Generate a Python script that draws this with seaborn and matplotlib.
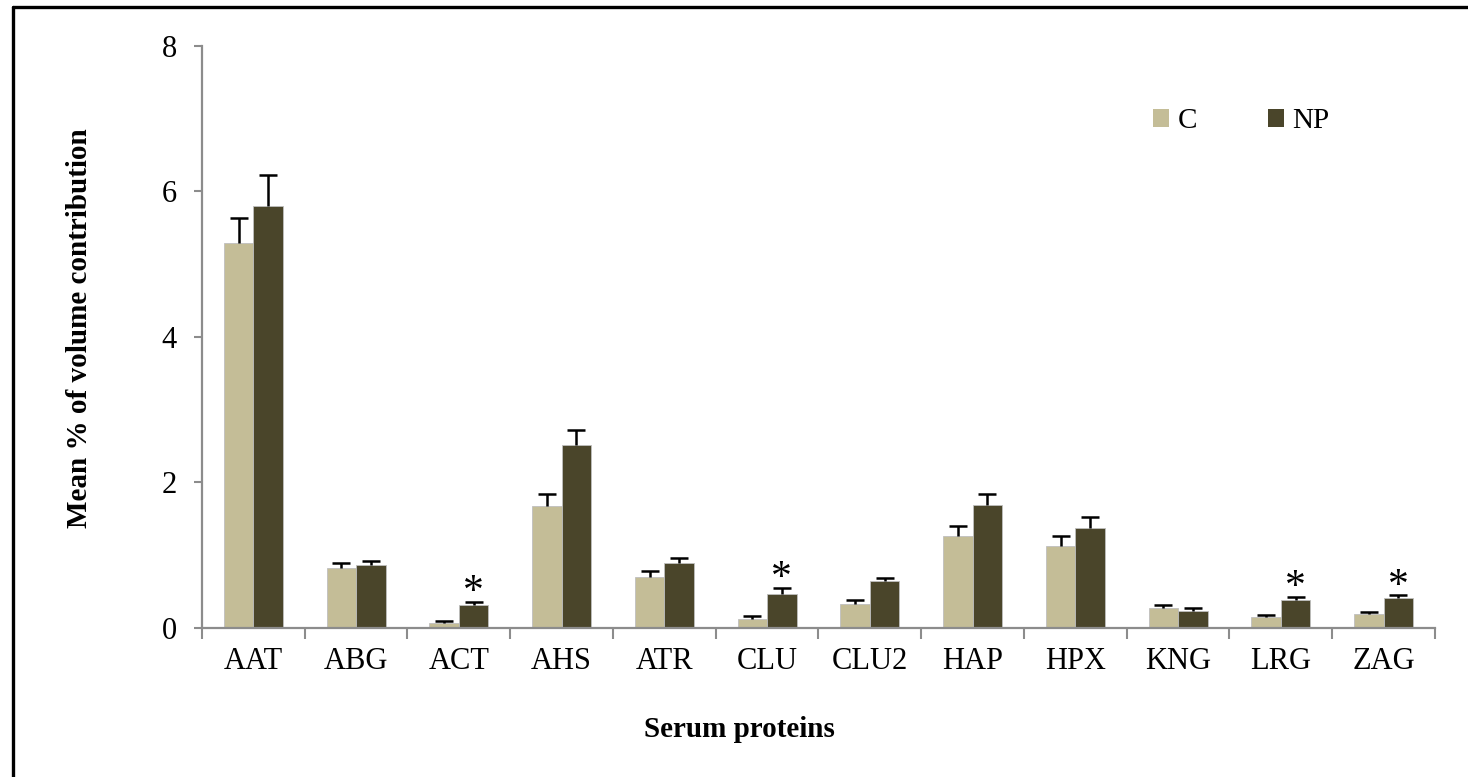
import matplotlib
matplotlib.use("Agg")
import matplotlib.pyplot as plt
from matplotlib.lines import Line2D
from matplotlib.patches import Patch
import numpy as np
import pandas as pd
import seaborn as sns

# Serum proteins and group means / SEM (% of spot volume)
proteins = ["AAT", "ABG", "ACT", "AHS", "ATR", "CLU", "CLU2", "HAP", "HPX", "KNG", "LRG", "ZAG"]
groups = ["C", "NP"]
mean_c = [5.29, 0.83, 0.07, 1.67, 0.70, 0.13, 0.33, 1.26, 1.13, 0.27, 0.15, 0.19]
mean_np = [5.80, 0.86, 0.31, 2.51, 0.89, 0.47, 0.64, 1.69, 1.37, 0.24, 0.385, 0.41]
sem_c = [0.35, 0.06, 0.03, 0.17, 0.08, 0.03, 0.05, 0.14, 0.14, 0.05, 0.03, 0.03]
sem_np = [0.42, 0.06, 0.05, 0.21, 0.07, 0.08, 0.05, 0.15, 0.16, 0.03, 0.04, 0.04]
significant = ["ACT", "CLU", "LRG", "ZAG"]
y_ticks = [0, 2, 4, 6, 8]

colors = {"C": "#C4BD97", "NP": "#4A452A"}

df = pd.DataFrame({
    "protein": proteins * 2,
    "group": ["C"] * len(proteins) + ["NP"] * len(proteins),
    "value": mean_c + mean_np,
    "sem": sem_c + sem_np,
})

sns.set_style("white")
plt.rcParams["font.family"] = ["Liberation Serif", "DejaVu Serif"]
plt.rcParams["text.color"] = "black"
plt.rcParams["axes.labelcolor"] = "black"
plt.rcParams["xtick.labelcolor"] = "black"
plt.rcParams["ytick.labelcolor"] = "black"

fig = plt.figure(figsize=(14.68, 7.77), dpi=100)
ax = fig.add_axes([0.1376, 0.1918, 0.8399, 0.749])

sns.barplot(data=df, x="protein", y="value", hue="group", order=proteins,
            hue_order=groups, palette=colors, saturation=1, width=0.575,
            gap=0, errorbar=None, edgecolor="#bfbfbf", linewidth=0.6, ax=ax,
            legend=False)

# Upper error whiskers with caps, plus significance marks
for gi, grp in enumerate(groups):
    container = ax.containers[gi]
    sub = df[df["group"] == grp].set_index("protein").loc[proteins]
    xs = np.array([p.get_x() + p.get_width() / 2 for p in container.patches])
    vals = sub["value"].to_numpy()
    errs = sub["sem"].to_numpy()
    ax.vlines(xs, vals, vals + errs, colors="black", linewidth=1.8, zorder=5)
    ax.plot(xs, vals + errs, linestyle="none", marker="_", markersize=13,
            markeredgewidth=1.8, color="black", zorder=5)
    if grp == "NP":
        for x, v, e, name in zip(xs, vals, errs, proteins):
            if name in significant:
                ax.annotate("*", xy=(x, v + e), xytext=(0, -1),
                            textcoords="offset points", ha="center",
                            va="baseline", fontsize=30)

ax.set_ylim(0, 8)
ax.set_yticks(y_ticks)
ax.set_xlim(-0.5, len(proteins) - 0.5)

ax.set_xticks(np.arange(len(proteins)))
ax.set_xticklabels(proteins)
ax.set_xticks(np.arange(len(proteins) + 1) - 0.5, minor=True)
ax.tick_params(axis="x", which="major", length=0, pad=14, labelsize=22)
ax.tick_params(axis="x", which="minor", length=8, width=1.5, color="#8c8c8c",
               direction="out", bottom=True)
ax.tick_params(axis="y", length=6, width=1.5, color="#8c8c8c",
               direction="out", left=True, pad=12, labelsize=22)

for side in ["top", "right"]:
    ax.spines[side].set_visible(False)
for side in ["left", "bottom"]:
    ax.spines[side].set_color("#8c8c8c")
    ax.spines[side].set_linewidth(1.6)

ax.set_xlabel("Serum proteins", fontsize=21, fontweight="bold")
ax.xaxis.set_label_coords(0.436, -0.151)
ax.set_ylabel("Mean % of volume contribution", fontsize=21, fontweight="bold")
ax.yaxis.set_label_coords(-0.088, 0.516)

handles = [Patch(facecolor=colors[g], edgecolor="none") for g in groups]
ax.legend(handles, groups, loc="center", bbox_to_anchor=(0.843, 0.871),
          ncol=2, frameon=False, fontsize=21, handlelength=0.55,
          handleheight=0.55, handletextpad=0.3, columnspacing=2.4)

# Frame lines at the top and left edge of the figure
fig.add_artist(Line2D([12.5 / 1468, 1.0], [1 - 6.5 / 777, 1 - 6.5 / 777],
                      transform=fig.transFigure, color="black", linewidth=2.4))
fig.add_artist(Line2D([12.5 / 1468, 12.5 / 1468], [0.0, 1 - 6.5 / 777],
                      transform=fig.transFigure, color="black", linewidth=2.4))

fig.savefig("out.png", dpi=100, facecolor="white")
